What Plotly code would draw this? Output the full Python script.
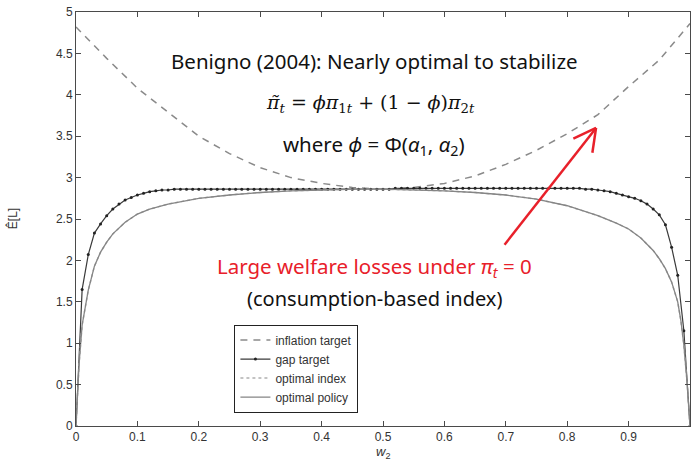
import plotly.graph_objects as go

# ---- data ----
infl_x = [0.0, 0.05, 0.1, 0.15, 0.2, 0.25, 0.3, 0.35, 0.4, 0.45, 0.5,
          0.55, 0.6, 0.65, 0.7, 0.75, 0.8, 0.85, 0.9, 0.95, 1.0]
inflation_target = [4.82, 4.44, 4.08, 3.79, 3.50, 3.29, 3.12, 3.00, 2.93, 2.88, 2.86,
                    2.88, 2.93, 3.02, 3.16, 3.33, 3.53, 3.76, 4.10, 4.42, 4.86]

gap_x = [i / 100 for i in range(101)]
gap_target = [0.0, 1.65, 2.07, 2.33, 2.44, 2.54, 2.62, 2.68, 2.73, 2.76,
              2.79, 2.81, 2.83, 2.84, 2.85, 2.85, 2.86, 2.86, 2.86, 2.86,
              2.86, 2.86, 2.86, 2.86, 2.86, 2.86, 2.86, 2.86, 2.86, 2.86,
              2.86, 2.86, 2.86, 2.86, 2.86, 2.86, 2.86, 2.86, 2.86, 2.86,
              2.86, 2.86, 2.86, 2.86, 2.86, 2.86, 2.86, 2.86, 2.86, 2.86,
              2.86, 2.86, 2.87, 2.87, 2.87, 2.87, 2.87, 2.87, 2.87, 2.87,
              2.87, 2.87, 2.87, 2.87, 2.87, 2.87, 2.87, 2.87, 2.87, 2.87,
              2.87, 2.87, 2.87, 2.87, 2.87, 2.87, 2.87, 2.87, 2.87, 2.87,
              2.87, 2.87, 2.87, 2.86, 2.86, 2.85, 2.84, 2.83, 2.81, 2.79,
              2.77, 2.75, 2.72, 2.68, 2.62, 2.55, 2.43, 2.16, 1.82, 1.15,
              0.0]

pol_x = [0.0, 0.005, 0.01, 0.02, 0.03, 0.04, 0.05, 0.06, 0.08, 0.1, 0.12, 0.15,
         0.2, 0.25, 0.3, 0.35, 0.4, 0.45, 0.5, 0.55, 0.6, 0.65, 0.7, 0.75, 0.8,
         0.85, 0.88, 0.9, 0.92, 0.94, 0.95, 0.96, 0.97, 0.98, 0.985, 0.99, 0.995, 1.0]
optimal_policy = [0.0, 0.75, 1.22, 1.64, 1.93, 2.10, 2.22, 2.32, 2.46, 2.56, 2.62, 2.68,
                  2.75, 2.79, 2.82, 2.84, 2.85, 2.86, 2.86, 2.85, 2.84, 2.82, 2.79, 2.74, 2.66,
                  2.54, 2.45, 2.38, 2.27, 2.12, 2.02, 1.90, 1.74, 1.50, 1.28, 0.98, 0.55, 0.0]
optimal_index = [0.0, 0.75, 1.22, 1.64, 1.93, 2.10, 2.22, 2.32, 2.46, 2.56, 2.62, 2.68,
                 2.75, 2.79, 2.82, 2.84, 2.85, 2.86, 2.86, 2.85, 2.84, 2.82, 2.79, 2.74, 2.66,
                 2.54, 2.45, 2.38, 2.27, 2.12, 2.02, 1.90, 1.74, 1.50, 1.28, 0.98, 0.55, 0.0]

x_ticks = [0, 0.1, 0.2, 0.3, 0.4, 0.5, 0.6, 0.7, 0.8, 0.9, 1.0]
x_tick_labels = ["0", "0.1", "0.2", "0.3", "0.4", "0.5", "0.6", "0.7", "0.8", "0.9", "1"]
y_ticks = [0, 0.5, 1, 1.5, 2, 2.5, 3, 3.5, 4, 4.5, 5]
y_tick_labels = ["0", "0.5", "1", "1.5", "2", "2.5", "3", "3.5", "4", "4.5", "5"]

# annotation arrow (data coordinates): tail, tip and the two barbs of the open head
arrow_tail = (0.698, 2.19)
arrow_tip = (0.847, 3.60)
arrow_barb_left = (0.810, 3.47)
arrow_barb_right = (0.841, 3.30)

# ---- figure ----
fig = go.Figure()
fig.add_trace(go.Scatter(x=infl_x, y=inflation_target, mode="lines", name="inflation target",
                         line=dict(color="#8a8a8a", width=1.5, dash="7px,6px")))
fig.add_trace(go.Scatter(x=gap_x, y=gap_target, mode="lines+markers", name="gap target",
                         line=dict(color="#3a3a3a", width=1.2),
                         marker=dict(color="#222222", size=3)))
fig.add_trace(go.Scatter(x=pol_x, y=optimal_index, mode="lines", name="optimal index",
                         line=dict(color="#b0b0b0", width=1.5, dash="dot")))
fig.add_trace(go.Scatter(x=pol_x, y=optimal_policy, mode="lines", name="optimal policy",
                         line=dict(color="#858585", width=1.3)))

axis_common = dict(showline=True, linecolor="#4a4a4a", linewidth=1, mirror="ticks",
                   ticks="inside", ticklen=5, tickcolor="#4a4a4a", showgrid=False,
                   zeroline=False, tickfont=dict(family="Liberation Sans, Arial", size=12, color="#333"))

fig.update_layout(
    width=691, height=461,
    margin=dict(l=76, r=1, t=12, b=35),
    paper_bgcolor="white", plot_bgcolor="white",
    xaxis=dict(range=[0, 1], tickvals=x_ticks, ticktext=x_tick_labels, **axis_common),
    yaxis=dict(range=[0, 5], tickvals=y_ticks, ticktext=y_tick_labels, **axis_common),
    showlegend=True,
    legend=dict(x=0.258, y=0.245, xanchor="left", yanchor="top",
                bordercolor="#222", borderwidth=1, bgcolor="white",
                font=dict(family="Liberation Sans, Arial", size=12, color="#333"),
                tracegroupgap=0),
)

fig.add_annotation(xref="paper", yref="paper", x=-0.104, y=0.5, text="Ê[L]", textangle=-90,
                   xanchor="center", yanchor="middle",
                   showarrow=False, font=dict(family="Liberation Sans, Arial", size=12, color="#333"))
fig.add_annotation(xref="paper", yref="paper", x=0.5, y=-0.064, yanchor="middle", xanchor="center",
                   text="<i>w</i><sub>2</sub>",
                   showarrow=False, font=dict(family="Liberation Sans, Arial", size=13, color="#333"))

txt = dict(xref="paper", yref="paper", xanchor="center", yanchor="middle", showarrow=False)
fig.add_annotation(x=0.486, y=0.882, text="Benigno (2004): Nearly optimal to stabilize",
                   font=dict(family="Noto Sans", size=20.5, color="#111"), **txt)
fig.add_annotation(x=0.479, y=0.780,
                   text="<i>π̃<sub>t</sub></i> = <i>ϕπ</i><sub>1<i>t</i></sub> + (1 − <i>ϕ</i>)<i>π</i><sub>2<i>t</i></sub>",
                   font=dict(family="DejaVu Serif", size=19, color="#111"), **txt)
fig.add_annotation(x=0.486, y=0.679,
                   text="where <i>ϕ</i> = Φ(<i>α</i><sub>1</sub>, <i>α</i><sub>2</sub>)",
                   font=dict(family="Noto Sans", size=20.5, color="#111"), **txt)
fig.add_annotation(x=0.486, y=0.383,
                   text="Large welfare losses under <i>π<sub>t</sub></i> = 0",
                   font=dict(family="Noto Sans", size=20.5, color="#e8202a"), **txt)
fig.add_annotation(x=0.486, y=0.309,
                   text="(consumption-based index)",
                   font=dict(family="Noto Sans", size=20, color="#111"), **txt)

# red arrow: shaft plus open V head
arrow_line = dict(color="#e8202a", width=2.5)
for (x0, y0), (x1, y1) in [(arrow_tail, arrow_tip), (arrow_barb_left, arrow_tip), (arrow_barb_right, arrow_tip)]:
    fig.add_shape(type="line", xref="x", yref="y", x0=x0, y0=y0, x1=x1, y1=y1, line=arrow_line)

fig.write_html("out.html")
